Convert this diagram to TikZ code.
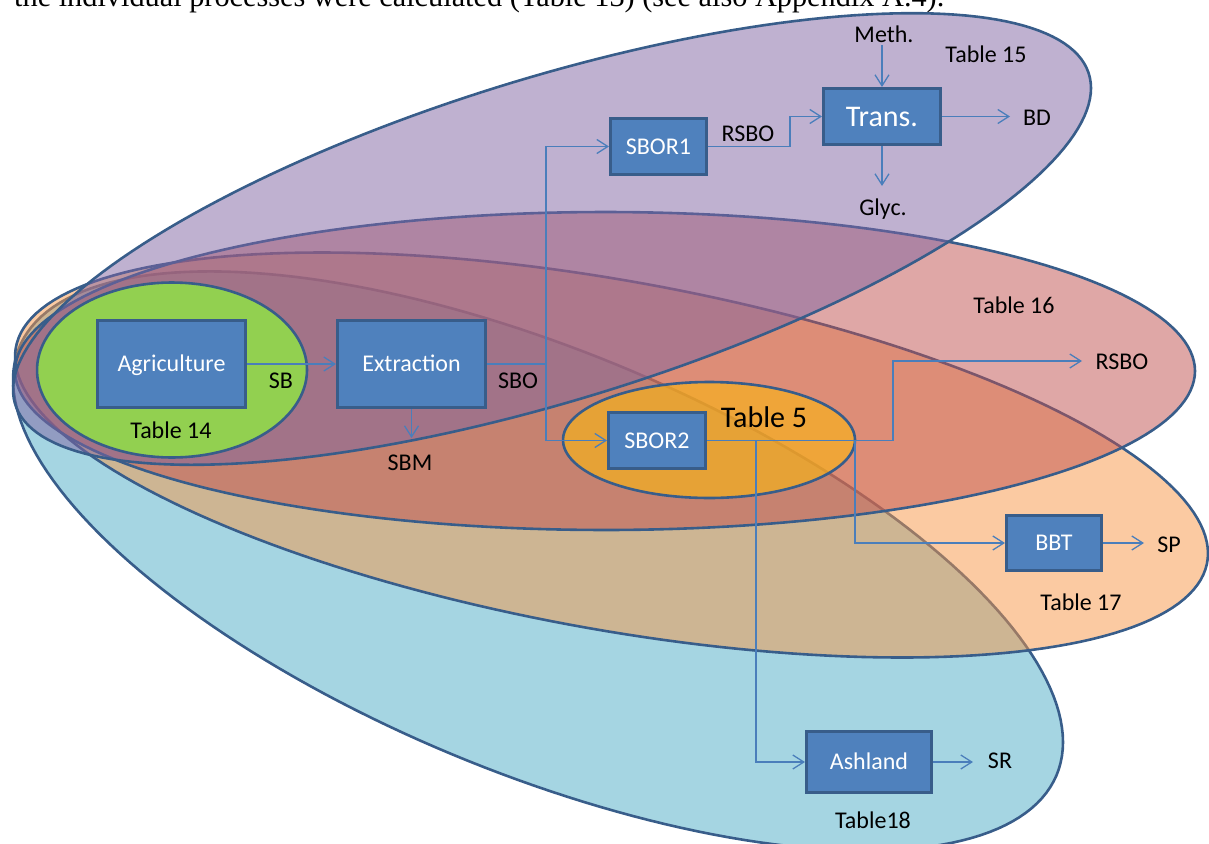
\documentclass[tikz,border=0pt]{standalone}
\usepackage{fontspec}
\setmainfont{Carlito}
\newfontfamily\bodyserif{Liberation Serif}
\usetikzlibrary{arrows.meta}

\definecolor{outl}{HTML}{385D8A}
\definecolor{boxfill}{HTML}{4F81BD}
\definecolor{linkc}{HTML}{4A7EBB}
\definecolor{purp}{HTML}{8064A2}
\definecolor{redd}{HTML}{C0504D}
\definecolor{oran}{HTML}{F79646}
\definecolor{aqua}{HTML}{4BACC6}
\definecolor{lime}{HTML}{92D050}
\definecolor{gold}{HTML}{F8B418}

\begin{document}
\begin{tikzpicture}[x=1pt,y=-1pt,
  region/.style={draw=outl, line width=2.6pt, fill opacity=0.5},
  solidregion/.style={draw=outl, line width=2.6pt},
  procbox/.style={draw=outl, line width=3pt, fill=boxfill, text=white, inner sep=0pt,
    text height=15.5pt, text depth=0pt, font=\fontsize{24}{28}\selectfont},
  lbl/.style={inner sep=0pt, anchor=base, font=\fontsize{24}{28}\selectfont},
  biglbl/.style={lbl, font=\fontsize{30}{34}\selectfont},
  link/.style={draw=linkc, line width=1.3pt},
  conn/.style={link, -{Straight Barb[length=11pt,width=14pt]}},
]
\useasboundingbox (0,0) rectangle (1209,843);
\clip (0,0) rectangle (1209,843);

% running text of the page above the figure
\node[anchor=base west, inner sep=0pt, font=\bodyserif\fontsize{30.3}{32}\selectfont]
  (intro) at (14,7) {the individual processes were calculated (Table 13) (see also Appendix A.4).};

% system boundaries (tilted ellipses)
\path[region, fill=aqua] plot[domain=0:360, samples=200, variable=\t]
  ({538+525*cos(\t)}, {561+181.1*cos(\t)+226*sin(\t)}) -- cycle;
\path[region, fill=oran] plot[domain=0:360, samples=200, variable=\t]
  ({611.5+596.5*cos(\t)}, {455+98.4*cos(\t)+177*sin(\t)}) -- cycle;
\path[region, fill=redd] plot[domain=0:360, samples=200, variable=\t]
  ({605+590*cos(\t)}, {371+159*sin(\t)}) -- cycle;
\path[region, fill=purp] plot[domain=0:360, samples=200, variable=\t]
  ({552+539*cos(\t)}, {239-150.9*cos(\t)+168*sin(\t)}) -- cycle;
\path[solidregion, fill=lime] plot[domain=0:360, samples=120, variable=\t]
  ({172+135*cos(\t)}, {370+87.5*sin(\t)}) -- cycle;
\path[region, fill=gold, fill opacity=0.65] plot[domain=0:360, samples=120, variable=\t]
  ({709+146*cos(\t)}, {440+58*sin(\t)}) -- cycle;

% process boxes
\node[procbox, minimum width=148pt, minimum height=87pt] (agri) at (171.5,364) {Agriculture};
\node[procbox, minimum width=148pt, minimum height=87pt] (extr) at (411.5,364) {Extraction};
\node[procbox, minimum width=96pt, minimum height=56pt] (sbor1) at (658.5,146.5) {SBOR1};
\node[procbox, minimum width=117pt, minimum height=56pt, text height=19.3pt,
  font=\fontsize{30}{34}\selectfont] (trans) at (882,116.5) {Trans.};
\node[procbox, minimum width=97pt, minimum height=56pt] (sbor2) at (657,440.5) {SBOR2};
\node[procbox, minimum width=95pt, minimum height=55pt] (bbt) at (1054,543) {BBT};
\node[procbox, minimum width=125pt, minimum height=61pt] (ashland) at (869,762) {Ashland};

% junctions and free arrow ends
\coordinate (j1) at (546,364);
\coordinate (j2) at (790,146.5);
\coordinate (j3) at (893,440.5);
\coordinate (j4) at (855,440.5);
\coordinate (j5) at (756,440.5);
\coordinate (sbmtip) at (411.5,438);
\coordinate (methtail) at (882,45);
\coordinate (bdtip) at (1010,116.5);
\coordinate (glyctip) at (882,186);
\coordinate (rsbotip) at (1082,361);
\coordinate (sptip) at (1144,543);
\coordinate (srtip) at (973,762);

% flows
\draw[conn] (agri) -- (extr);
\draw[link] (extr) -- (j1);
\draw[conn] (j1) |- (sbor1);
\draw[conn] (j1) |- (sbor2);
\draw[conn] (extr) -- (sbmtip);
\draw[conn] (sbor1) -- (j2) |- (trans);
\draw[conn] (methtail) -- (trans);
\draw[conn] (trans) -- (bdtip);
\draw[conn] (trans) -- (glyctip);
\draw[conn] (sbor2) -- (j3) |- (rsbotip);
\draw[conn] (j4) |- (bbt);
\draw[conn] (j5) |- (ashland);
\draw[conn] (bbt) -- (sptip);
\draw[conn] (ashland) -- (srtip);

% flow and table labels
\node[lbl] (sb) at (281,388) {SB};
\node[lbl] (sbo) at (518,388) {SBO};
\node[lbl] (sbm) at (410,470) {SBM};
\node[lbl] (rsbo1) at (748,141) {RSBO};
\node[lbl] (meth) at (884,42) {Meth.};
\node[lbl] (t15) at (986,63) {Table 15};
\node[lbl] (bd) at (1037,125) {BD};
\node[lbl] (glyc) at (883,215) {Glyc.};
\node[lbl] (t16) at (1014,313) {Table 16};
\node[lbl] (rsbo2) at (1122,369) {RSBO};
\node[biglbl] (t5) at (764,427) {Table 5};
\node[lbl] (sp) at (1169,552) {SP};
\node[lbl] (t17) at (1081,610) {Table 17};
\node[lbl] (sr) at (1000,768) {SR};
\node[lbl] (t18) at (873,828) {Table18};
\node[lbl] (t14) at (171,438) {Table 14};
\end{tikzpicture}
\end{document}
